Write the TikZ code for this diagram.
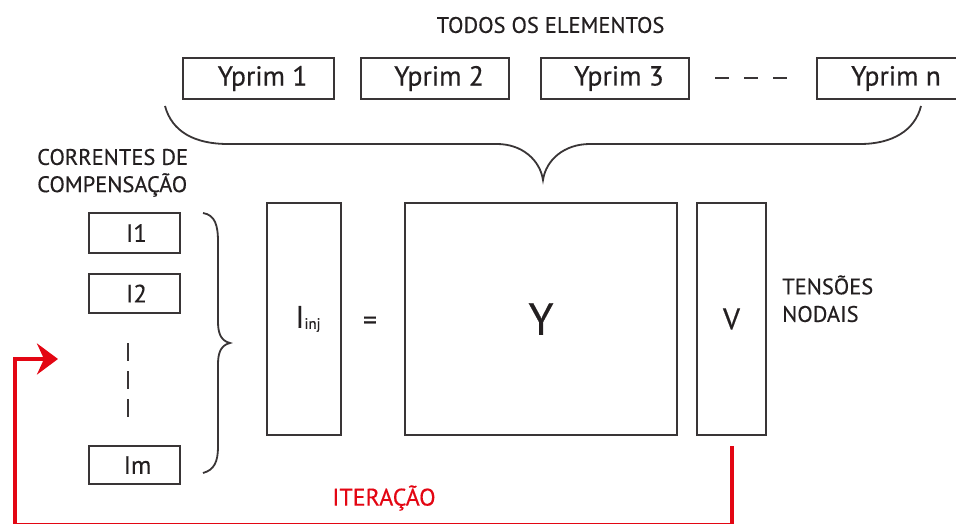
\documentclass[tikz,border=0pt]{standalone}
\usepackage{fontspec}
\setmainfont{PT Sans}[FakeBold=0.4]
\usetikzlibrary{arrows.meta}
\definecolor{ink}{HTML}{231F20}
\definecolor{redc}{HTML}{E30613}
\begin{document}
\begin{tikzpicture}[x=1pt,y=-1pt,
  box/.style={draw=ink!90, line width=1.8pt, inner sep=0pt, text=ink},
  lbl/.style={text=ink, inner sep=0pt, font=\fontsize{22.5}{26}\selectfont},
  yfont/.style={font=\fontsize{27.5}{31}\selectfont},
  ifont/.style={font=\fontsize{25}{29}\selectfont},
  brace/.style={draw=ink!90, line width=1.8pt},
  loop/.style={draw=redc, line width=4.8pt}]
\useasboundingbox (0,0) rectangle (956,524);
\clip (0,0) rectangle (956,524);
% title
\node[lbl] (title) at (550.5,25) {TODOS OS ELEMENTOS};
% Yprim boxes
\node[box,yfont,minimum width=151pt,minimum height=41pt] (y1) at (258.5,78.5) {\hspace{8pt}Yprim 1};
\node[box,yfont,minimum width=148pt,minimum height=41pt] (y2) at (435,78.5) {\hspace{8pt}Yprim 2};
\node[box,yfont,minimum width=148pt,minimum height=41pt] (y3) at (615,78.5) {\hspace{8pt}Yprim 3};
\node[box,yfont,minimum width=150pt,minimum height=41pt] (yn) at (892,78.5) {\hspace{8pt}Yprim n};
\coordinate (d1) at (715,78);
\coordinate (d2) at (790,78);
\draw[ink!90, line width=1.8pt, dash pattern=on 14pt off 15pt] (d1) -- (d2);
% top brace
\draw[brace] (165,106) .. controls (172,132) and (195,144) .. (228,144) -- (497,144)
  .. controls (522,144) and (540,160) .. (543,180)
  .. controls (546,160) and (564,144) .. (590,144) -- (860,144)
  .. controls (893,144) and (915,130) .. (921,106);
% left label
\node[lbl, anchor=west] (corr) at (37,157) {CORRENTES DE};
\node[lbl, anchor=west] (comp) at (37,185) {COMPENSAÇÃO};
% current boxes
\node[box,ifont,minimum width=91pt,minimum height=40pt] (i1) at (134.5,233) {\hspace{4pt}I1};
\node[box,ifont,minimum width=91pt,minimum height=39pt] (i2) at (134.5,293.5) {\hspace{4pt}I2};
\node[box,ifont,minimum width=91pt,minimum height=38pt] (im) at (134.5,465) {\hspace{6pt}Im};
\coordinate (v1) at (128,343);
\coordinate (v2) at (128,417);
\draw[ink!90, line width=1.8pt, dash pattern=on 18pt off 10pt] (v1) -- (v2);
% left brace
\draw[brace] (203,213) .. controls (215,215) and (218,225) .. (218,242) -- (218,322)
  .. controls (218,335) and (222,341) .. (230,343)
  .. controls (222,345) and (218,351) .. (218,364) -- (218,447)
  .. controls (218,462) and (214,470) .. (203,473);
% matrices
\node[box,minimum width=74pt,minimum height=232pt] (iinj) at (304,319) {};
\node[text=ink, inner sep=0pt] (iinjt) at (308,319) {\fontsize{31}{34}\selectfont I\raisebox{-1pt}{\fontsize{15}{17}\selectfont inj}};
\node[text=ink, inner sep=0pt, font=\fontsize{28}{32}\selectfont] (eq) at (370,323) {=};
\node[box,minimum width=272pt,minimum height=232pt, font=\fontsize{45}{50}\selectfont] (Y) at (541,319) {Y};
\node[box,minimum width=69pt,minimum height=232pt, font=\fontsize{30}{34}\selectfont] (V) at (731.5,319) {V};
\node[lbl, anchor=west] (tens) at (782,285) {TENSÕES};
\node[lbl, anchor=west] (nod) at (782,314) {NODAIS};
% iteration loop
\coordinate (ls) at (732,446);
\coordinate (lc1) at (732,525.8);
\coordinate (lc2) at (15,525.8);
\coordinate (lc3) at (15,359);
\coordinate (le) at (58,359);
\draw[loop, -{Stealth[length=21pt,width=31pt,inset=7pt]}] (ls) -- (lc1) -- (lc2) -- (lc3) -- (le);
\node[inner sep=0pt, text=redc, font=\fontsize{24}{28}\selectfont] (iter) at (384,498) {ITERAÇÃO};
\end{tikzpicture}
\end{document}
